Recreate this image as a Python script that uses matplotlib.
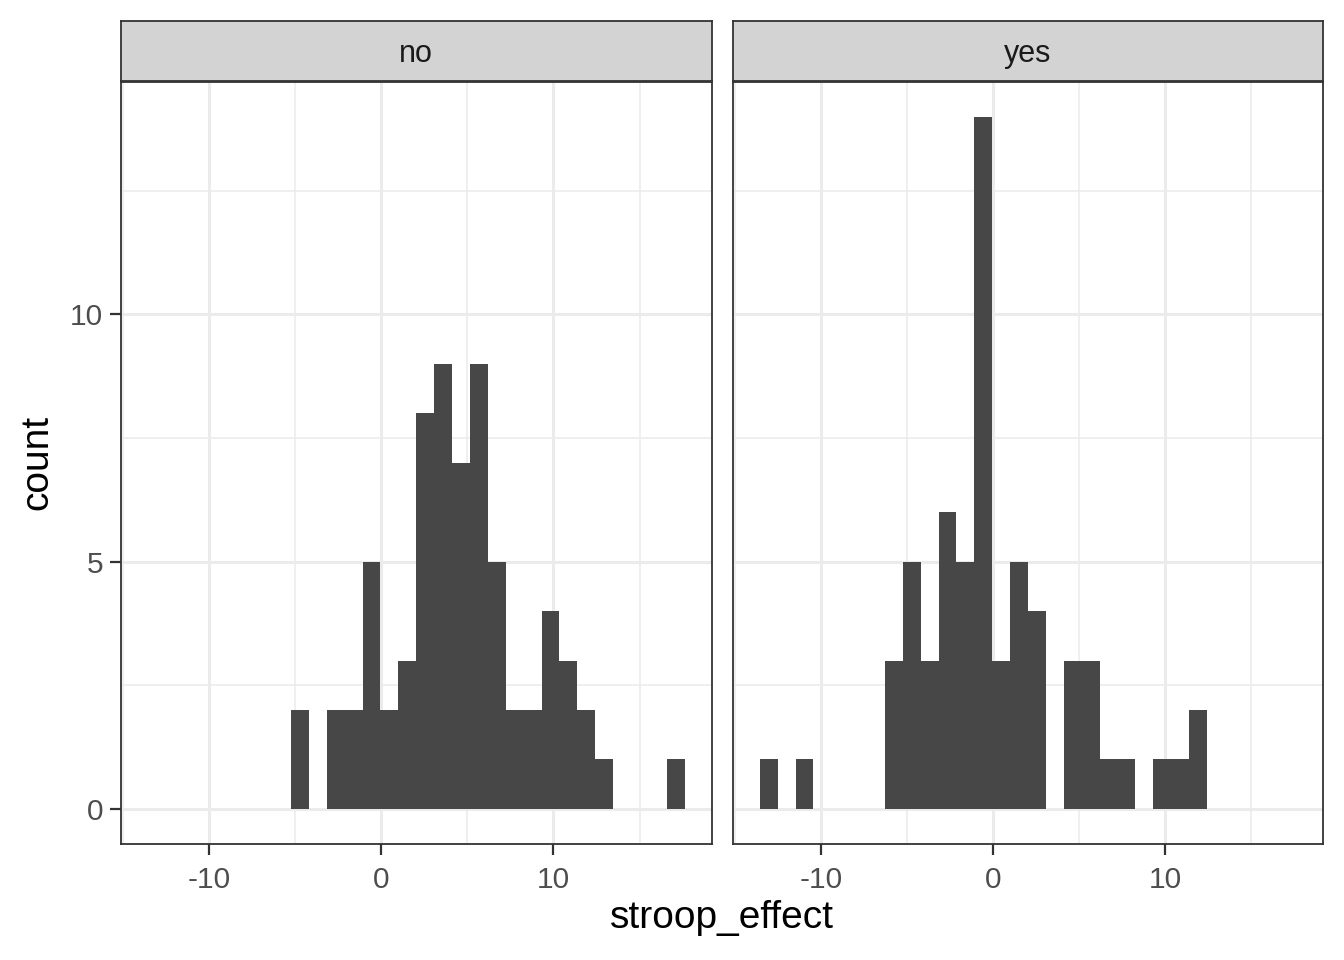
import numpy as np
import matplotlib
matplotlib.use("Agg")
import matplotlib.pyplot as plt
from matplotlib.ticker import MultipleLocator

plt.rcParams['font.family'] = ['Liberation Sans', 'DejaVu Sans']
plt.rcParams['axes.unicode_minus'] = False

# data range of stroop_effect (ggplot bins=30, width = range / 29)
data_min = -13.03
data_max = 17.10
n_bins = 30

panels = ["no", "yes"]
counts_no = [0, 0, 0, 0, 0, 0, 0, 0, 2, 0, 2, 2, 5, 2, 3, 8, 9, 7, 9, 5,
             2, 2, 4, 3, 2, 1, 0, 0, 0, 1]
counts_yes = [1, 0, 1, 0, 0, 0, 0, 3, 5, 3, 6, 5, 14, 3, 5, 4, 0, 3, 3, 1,
              1, 0, 1, 1, 2, 0, 0, 0, 0, 0]
counts = {"no": counts_no, "yes": counts_yes}

x_ticks = [-10, 0, 10]
y_ticks = [0, 5, 10]

width = (data_max - data_min) / (n_bins - 1)
edges = data_min - width / 2 + width * np.arange(n_bins + 1)
centers = (edges[:-1] + edges[1:]) / 2

lo, hi = edges[0], edges[-1]
pad = 0.05 * (hi - lo)
xlim = (lo - pad, hi + pad)
ymax = max(max(counts_no), max(counts_yes))
ylim = (-0.05 * ymax, ymax * 1.05)

W, H = 1344, 960
fig = plt.figure(figsize=(W / 100, H / 100), dpi=100)

dark = '#333333'
grid_col = '#EBEBEB'
panel_x = [(121, 711.5), (733, 1323)]
top, bottom = 82, 843.5
strip_top, strip_bot = 20.5, 80.5

for i, name in enumerate(panels):
    x0, x1 = panel_x[i]
    ax = fig.add_axes([x0 / W, 1 - bottom / H, (x1 - x0) / W, (bottom - top) / H])
    ax.bar(centers, counts[name], width=width, color='#474747', linewidth=0, zorder=3)
    ax.set_xlim(*xlim)
    ax.set_ylim(*ylim)
    ax.xaxis.set_minor_locator(MultipleLocator(5))
    ax.yaxis.set_minor_locator(MultipleLocator(2.5))
    ax.set_xticks(x_ticks)
    ax.set_yticks(y_ticks)
    ax.grid(which='major', color=grid_col, linewidth=2.2, zorder=0)
    ax.grid(which='minor', color=grid_col, linewidth=1.1, zorder=0)
    ax.set_axisbelow(True)
    for s in ax.spines.values():
        s.set_color(dark)
        s.set_linewidth(1.3)
        s.set_zorder(5)
    ax.tick_params(which='minor', length=0)
    ax.tick_params(which='major', length=8, width=1.6, color=dark,
                   labelsize=21.5, labelcolor='#4D4D4D')
    ax.tick_params(axis='x', pad=8)
    ax.tick_params(axis='y', pad=5)
    if i > 0:
        ax.tick_params(axis='y', length=0, labelleft=False)

    # facet strip
    sx = fig.add_axes([x0 / W, 1 - strip_bot / H, (x1 - x0) / W, (strip_bot - strip_top) / H])
    sx.set_facecolor('#D3D3D3')
    sx.set_xticks([])
    sx.set_yticks([])
    for s in sx.spines.values():
        s.set_color(dark)
        s.set_linewidth(1.3)
    sx.text(0.5, 0.44, name, ha='center', va='center', fontsize=22,
            color='#1A1A1A', transform=sx.transAxes)

fig.text((121 + 1323) / 2 / W, 1 - 918 / H, 'stroop_effect', ha='center', va='center',
         fontsize=28, color='black')
fig.text(37 / W, 1 - 462 / H, 'count', ha='center', va='center', rotation=90,
         fontsize=28, color='black')

fig.savefig('out.png', dpi=100, facecolor='white')
